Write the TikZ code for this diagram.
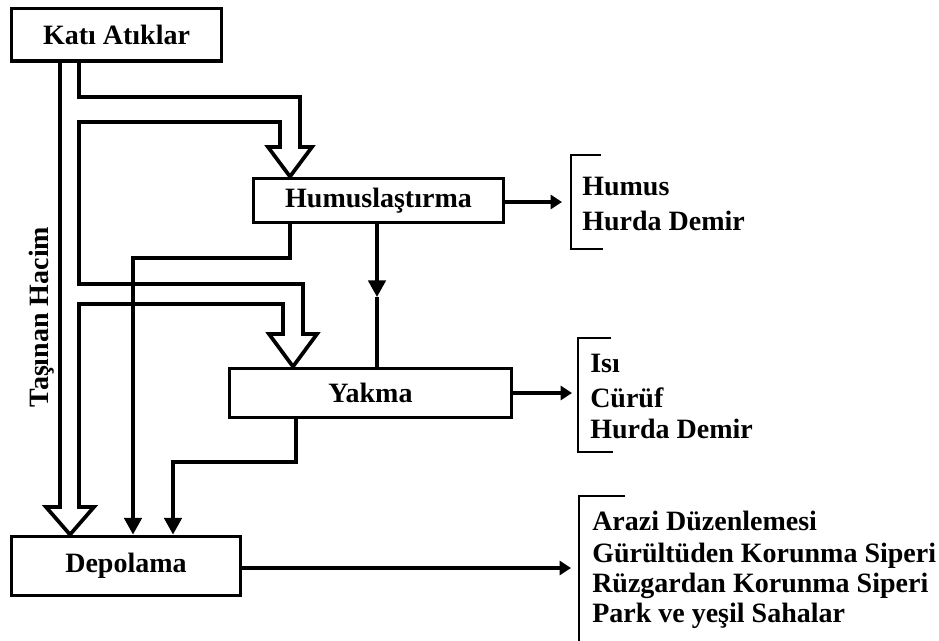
\documentclass[tikz,border=0pt]{standalone}
\usepackage{fontspec}
\setmainfont{Liberation Serif}
\usetikzlibrary{arrows.meta}
\newcommand\lblfont{\fontsize{21}{24}\selectfont\bfseries}
\begin{document}
\begin{tikzpicture}[x=0.75pt,y=-0.75pt,line join=miter,
  box/.style={draw,line width=2.9pt,inner sep=0pt,font=\lblfont},
  pipe/.style={draw,line width=2.8pt},
  flow/.style={draw,line width=2.8pt,-{Triangle[width=13pt,length=12.5pt]}},
  outflow/.style={draw,line width=2.8pt,-{Triangle[width=10.5pt,length=8.5pt]}},
  wire/.style={draw,line width=2.8pt},
  brace/.style={draw,line width=1.6pt},
  item/.style={anchor=base west,inner sep=0pt,font=\lblfont}]
\useasboundingbox (0,0) rectangle (939,640);
\clip (0,0) rectangle (939,640);

% process boxes
\node[box,minimum width=210*0.75pt,minimum height=52.5*0.75pt] (kat) at (116.5,34.75) {Katı Atıklar};
\node[box,minimum width=250*0.75pt,minimum height=44*0.75pt] (hum) at (378.5,200.5) {Humuslaştırma};
\node[box,minimum width=282*0.75pt,minimum height=49*0.75pt] (yak) at (370.5,393) {Yakma};
\node[box,minimum width=229*0.75pt,minimum height=59*0.75pt] (dep) at (126,566) {Depolama};

% reference columns and rows
\coordinate (pL) at (60,0);
\coordinate (pR) at (79,0);
\coordinate (hc) at (290,0);
\coordinate (yc) at (293,0);
\coordinate (dc) at (70,0);

% hollow transport pipe with its two branches
\draw[pipe] (kat.south -| pL) -- (60,507) -- (46,507) -- (dep.north -| dc) -- (94,507) -- (79,507)
  -- (79,304) -- (283,304) -- (283,334) -- (269,334) -- (yak.north -| yc) -- (317,334) -- (303,334)
  -- (303,284) -- (79,284) -- (79,122) -- (280,122) -- (280,147) -- (268,147) -- (hum.north -| hc)
  -- (312,147) -- (300,147) -- (300,97) -- (79,97) -- (kat.south -| pR);

\node[rotate=90,anchor=base,inner sep=0pt,font=\lblfont] (hacim) at (48,317) {Taşınan Hacim};

% residue lines to storage
\coordinate (h1) at (290,258);
\coordinate (d1) at (133,0);
\draw[flow] (hum.south -| h1) -- (h1) -| (dep.north -| d1);
\coordinate (y1) at (296,462);
\coordinate (d2) at (173,0);
\draw[flow] (yak.south -| y1) -- (y1) -| (dep.north -| d2);

% composting residue to incineration
\coordinate (hy) at (377,0);
\coordinate (hymid) at (377,297);
\draw[flow] (hum.south -| hy) -- (hymid);
\draw[wire] (hymid) -- (yak.north -| hy);

% products
\coordinate (o1) at (562,202);
\coordinate (o2) at (572,393);
\coordinate (o3) at (571,568);
\draw[outflow] (hum.east |- o1) -- (o1);
\draw[outflow] (yak.east |- o2) -- (o2);
\draw[outflow] (dep.east |- o3) -- (o3);

\draw[brace] (601,155) -- (571,155) -- (571,249) -- (603,249);
\draw[brace] (611,338) -- (578,338) -- (578,452) -- (613,452);
\draw[brace] (625,496) -- (579,496) -- (579,645);

\node[item] (p1) at (582,195) {Humus};
\node[item] (p2) at (582,230) {Hurda Demir};
\node[item] (p3) at (590,372) {Isı};
\node[item] (p4) at (590,407) {Cürüf};
\node[item] (p5) at (590,438) {Hurda Demir};
\node[item] (p6) at (592,530) {Arazi Düzenlemesi};
\node[item] (p7) at (592,562) {Gürültüden Korunma Siperi};
\node[item] (p8) at (592,592) {Rüzgardan Korunma Siperi};
\node[item] (p9) at (592,622) {Park ve yeşil Sahalar};
\end{tikzpicture}
\end{document}
